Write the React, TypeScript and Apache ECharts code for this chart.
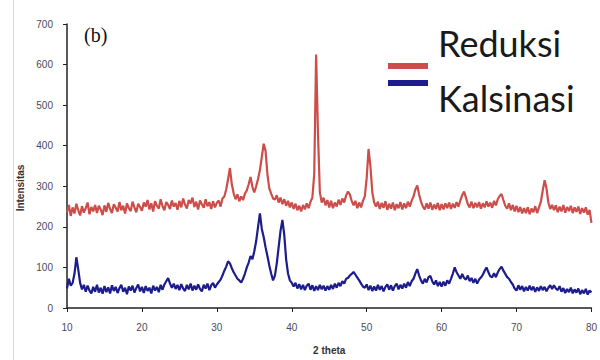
import React, { useEffect, useRef } from "react";
import * as echarts from "echarts";

const xTicks = [10, 20, 30, 40, 50, 60, 70, 80];
const yTicks = [0, 100, 200, 300, 400, 500, 600, 700];

// 2θ sampled every 0.25° from 10 to 80
const twoTheta: number[] = Array.from({ length: 281 }, (_, i) => 10 + i * 0.25);

const reduksi: number[] = [
  // 10 - 14.75
  236, 254, 227, 248, 233, 257, 241, 228, 251, 235, 246, 260, 231, 249, 238, 254, 234, 252, 243, 229,
  // 15 - 19.75
  253, 237, 259, 244, 234, 256, 247, 238, 261, 241, 252, 233, 258, 246, 239, 262, 248, 236, 257, 249,
  // 20 - 24.75
  240, 260, 250, 266, 243, 258, 238, 263, 252, 245, 268, 251, 241, 261, 254, 244, 265, 250, 259, 242,
  // 25 - 29.75
  264, 248, 270, 255, 245, 266, 258, 272, 249, 262, 243, 265, 256, 247, 268, 251, 261, 244, 263, 248,
  // 30 - 34.75
  259, 265, 250, 270, 275, 292, 318, 345, 305, 282, 268, 280, 263, 275, 266, 282, 290, 305, 323, 298,
  // 35 - 39.75
  285, 300, 318, 340, 372, 405, 388, 330, 295, 282, 270, 267, 278, 260, 272, 256, 268, 252, 264, 248,
  // 40 - 44.75
  260, 244, 257, 241, 252, 238, 254, 243, 258, 246, 262, 272, 330, 625, 430, 285, 260, 272, 253, 266,
  // 45 - 49.75
  248, 264, 246, 260, 250, 267, 254, 270, 260, 277, 287, 280, 264, 253, 264, 246, 260, 248, 264, 275,
  // 50 - 54.75
  320, 392, 350, 285, 260, 250, 262, 244, 259, 247, 263, 242, 257, 245, 260, 241, 256, 246, 261, 243,
  // 55 - 59.75
  258, 246, 262, 250, 264, 275, 292, 302, 280, 262, 250, 243, 258, 245, 260, 242, 255, 244, 259, 241,
  // 60 - 64.75
  256, 243, 258, 246, 260, 244, 257, 247, 261, 250, 265, 278, 287, 272, 256, 248, 262, 246, 259, 248,
  // 65 - 69.75
  261, 245, 258, 248, 263, 250, 260, 247, 264, 253, 268, 276, 281, 266, 252, 245, 258, 241, 254, 238,
  // 70 - 74.75
  252, 236, 249, 233, 246, 234, 248, 231, 245, 236, 251, 234, 248, 262, 290, 315, 295, 260, 244, 254,
  // 75 - 80
  241, 253, 236, 250, 238, 254, 235, 249, 239, 252, 234, 248, 237, 250, 232, 246, 235, 248, 230, 242, 210,
];

const kalsinasi: number[] = [
  // 10 - 14.75
  48, 72, 55, 62, 85, 125, 95, 62, 46, 57, 40, 55, 43, 36, 52, 40, 57, 38, 50, 35,
  // 15 - 19.75
  54, 39, 51, 36, 56, 42, 52, 37, 49, 57, 40, 50, 34, 53, 43, 55, 38, 49, 58, 41,
  // 20 - 24.75
  52, 37, 54, 42, 50, 36, 55, 43, 52, 39, 57, 45, 58, 66, 74, 60, 50, 60, 47, 57,
  // 25 - 29.75
  44, 59, 48, 42, 57, 46, 60, 43, 55, 45, 58, 47, 41, 57, 48, 60, 44, 56, 62, 50,
  // 30 - 34.75
  58, 64, 70, 80, 92, 102, 115, 110, 98, 88, 80, 72, 68, 63, 72, 85, 100, 112, 128, 120,
  // 35 - 39.75
  140, 165, 200, 233, 195, 175, 150, 128, 105, 85, 68, 80, 110, 150, 190, 217, 180, 120, 85, 68,
  // 40 - 44.75
  62, 53, 62, 48, 59, 46, 57, 44, 55, 60, 45, 56, 42, 54, 44, 57, 46, 55, 43, 54,
  // 45 - 49.75
  45, 57, 47, 60, 50, 62, 54, 66, 60, 72, 74, 80, 84, 89, 82, 75, 68, 60, 53, 50,
  // 50 - 54.75
  58, 44, 55, 42, 53, 43, 57, 45, 54, 41, 52, 58, 45, 56, 43, 54, 60, 46, 57, 48,
  // 55 - 59.75
  60, 50, 64, 54, 66, 72, 85, 96, 80, 68, 60, 72, 63, 76, 79, 66, 58, 68, 54, 64,
  // 60 - 64.75
  53, 65, 55, 68, 60, 72, 85, 100, 88, 80, 72, 84, 74, 70, 80, 66, 74, 62, 72, 60,
  // 65 - 69.75
  70, 75, 82, 92, 100, 88, 78, 76, 86, 76, 88, 96, 102, 92, 84, 76, 72, 64, 58, 48,
  // 70 - 74.75
  43, 56, 45, 54, 41, 52, 43, 55, 44, 53, 40, 51, 42, 54, 44, 52, 41, 50, 56, 47,
  // 75 - 80
  56, 48, 44, 54, 40, 49, 37, 47, 39, 50, 36, 46, 38, 48, 34, 44, 36, 47, 33, 43, 38,
];

const seriesNames = ["Reduksi", "Kalsinasi"];
const seriesColors = ["#cc4d4a", "#1c1c8c"];

export default function App() {
  const ref = useRef<HTMLDivElement>(null);

  useEffect(() => {
    if (!ref.current) return;
    const chart = echarts.init(ref.current, undefined, { renderer: "svg" });
    const labelStyle = {
      fontFamily: "Liberation Sans",
      fontSize: 10,
      color: "#4a4a5a",
    };
    chart.setOption({
      animation: false,
      backgroundColor: "#ffffff",
      grid: { left: 67, right: 5, top: 24, bottom: 49, containLabel: false },
      xAxis: {
        type: "value",
        min: xTicks[0],
        max: xTicks[xTicks.length - 1],
        interval: 10,
        name: "2 theta",
        nameLocation: "middle",
        nameGap: 37,
        nameTextStyle: { ...labelStyle, fontWeight: "bold", color: "#333" },
        axisLine: { lineStyle: { color: "#222", width: 1.5 } },
        axisTick: { show: true, length: 4, lineStyle: { color: "#222" } },
        axisLabel: { ...labelStyle, margin: 14 },
        splitLine: { show: false },
      },
      yAxis: {
        type: "value",
        min: yTicks[0],
        max: yTicks[yTicks.length - 1],
        interval: 100,
        axisLine: { show: true, lineStyle: { color: "#222", width: 1.5 } },
        axisTick: { show: true, length: 4, lineStyle: { color: "#222" } },
        axisLabel: { ...labelStyle, margin: 14 },
        splitLine: { show: false },
      },
      series: [
        {
          name: seriesNames[0],
          type: "line",
          data: twoTheta.map((x, i) => [x, reduksi[i]]),
          showSymbol: false,
          lineStyle: { color: seriesColors[0], width: 2.2 },
          itemStyle: { color: seriesColors[0] },
        },
        {
          name: seriesNames[1],
          type: "line",
          data: twoTheta.map((x, i) => [x, kalsinasi[i]]),
          showSymbol: false,
          lineStyle: { color: seriesColors[1], width: 2.2 },
          itemStyle: { color: seriesColors[1] },
        },
      ],
      graphic: [
        {
          type: "line",
          shape: { x1: 13.5, y1: 0, x2: 13.5, y2: 360 },
          style: { stroke: "#d8d8d8", lineWidth: 1 },
        },
        {
          type: "text",
          x: 20,
          y: 188,
          rotation: Math.PI / 2,
          style: {
            text: "Intensitas",
            fontFamily: "Liberation Sans",
            fontSize: 10,
            fontWeight: "bold",
            fill: "#333",
            align: "center",
            verticalAlign: "middle",
          },
        },
        {
          type: "text",
          x: 84,
          y: 35,
          style: {
            text: "(b)",
            fontFamily: "Liberation Serif",
            fontSize: 20,
            fill: "#111",
            align: "left",
            verticalAlign: "middle",
          },
        },
        {
          type: "rect",
          shape: { x: 388, y: 63, width: 40, height: 6 },
          style: { fill: seriesColors[0] },
        },
        {
          type: "rect",
          shape: { x: 388, y: 80, width: 40, height: 6 },
          style: { fill: seriesColors[1] },
        },
        {
          type: "text",
          x: 438,
          y: 43,
          style: {
            text: seriesNames[0],
            fontFamily: "Lato",
            fontSize: 36,
            fill: "#1a1a1a",
            align: "left",
            verticalAlign: "middle",
          },
        },
        {
          type: "text",
          x: 438,
          y: 98,
          style: {
            text: seriesNames[1],
            fontFamily: "Lato",
            fontSize: 36,
            fill: "#1a1a1a",
            align: "left",
            verticalAlign: "middle",
          },
        },
      ],
    });
    return () => chart.dispose();
  }, []);

  return (
    <div
      ref={ref}
      style={{ position: "absolute", left: 0, top: 0, width: 600, height: 360 }}
    />
  );
}
